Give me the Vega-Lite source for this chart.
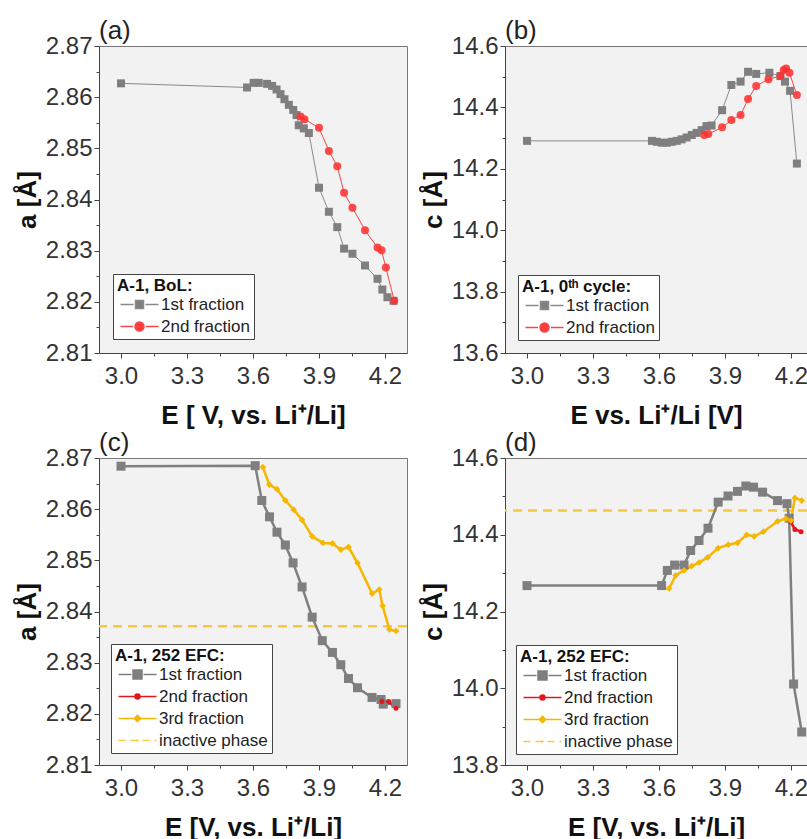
{
"$schema": "https://vega.github.io/schema/vega-lite/v6.json",
"padding": {"left": 13, "top": 17, "right": 0, "bottom": 0},
"autosize": {"type": "pad"},
"datasets": {
"a": [
{"E":3.0,"v":2.8627,"s":"1st fraction","i":0},{"E":3.573,"v":2.8619,"s":"1st fraction","i":1},{"E":3.603,"v":2.8628,"s":"1st fraction","i":2},{"E":3.626,"v":2.8628,"s":"1st fraction","i":3},{"E":3.664,"v":2.8626,"s":"1st fraction","i":4},{"E":3.687,"v":2.8622,"s":"1st fraction","i":5},{"E":3.707,"v":2.8615,"s":"1st fraction","i":6},{"E":3.725,"v":2.8606,"s":"1st fraction","i":7},{"E":3.743,"v":2.8596,"s":"1st fraction","i":8},{"E":3.763,"v":2.8585,"s":"1st fraction","i":9},{"E":3.783,"v":2.8575,"s":"1st fraction","i":10},{"E":3.798,"v":2.8565,"s":"1st fraction","i":11},{"E":3.808,"v":2.8545,"s":"1st fraction","i":12},{"E":3.831,"v":2.8539,"s":"1st fraction","i":13},{"E":3.854,"v":2.853,"s":"1st fraction","i":14},{"E":3.9,"v":2.8423,"s":"1st fraction","i":15},{"E":3.945,"v":2.8376,"s":"1st fraction","i":16},{"E":3.983,"v":2.8346,"s":"1st fraction","i":17},{"E":4.014,"v":2.8304,"s":"1st fraction","i":18},{"E":4.052,"v":2.8294,"s":"1st fraction","i":19},{"E":4.109,"v":2.8271,"s":"1st fraction","i":20},{"E":4.166,"v":2.8245,"s":"1st fraction","i":21},{"E":4.188,"v":2.8224,"s":"1st fraction","i":22},{"E":4.211,"v":2.8209,"s":"1st fraction","i":23},{"E":4.239,"v":2.8202,"s":"1st fraction","i":24},
{"E":3.816,"v":2.8562,"s":"2nd fraction","i":0},{"E":3.834,"v":2.8557,"s":"2nd fraction","i":1},{"E":3.9,"v":2.854,"s":"2nd fraction","i":2},{"E":3.945,"v":2.8495,"s":"2nd fraction","i":3},{"E":3.983,"v":2.8465,"s":"2nd fraction","i":4},{"E":4.014,"v":2.8413,"s":"2nd fraction","i":5},{"E":4.052,"v":2.8384,"s":"2nd fraction","i":6},{"E":4.109,"v":2.834,"s":"2nd fraction","i":7},{"E":4.166,"v":2.8306,"s":"2nd fraction","i":8},{"E":4.184,"v":2.8301,"s":"2nd fraction","i":9},{"E":4.204,"v":2.8267,"s":"2nd fraction","i":10},{"E":4.242,"v":2.8202,"s":"2nd fraction","i":11}
],
"b": [
{"E":3.0,"v":14.291,"s":"1st fraction","i":0},{"E":3.568,"v":14.291,"s":"1st fraction","i":1},{"E":3.59,"v":14.288,"s":"1st fraction","i":2},{"E":3.613,"v":14.285,"s":"1st fraction","i":3},{"E":3.636,"v":14.285,"s":"1st fraction","i":4},{"E":3.658,"v":14.288,"s":"1st fraction","i":5},{"E":3.681,"v":14.291,"s":"1st fraction","i":6},{"E":3.703,"v":14.296,"s":"1st fraction","i":7},{"E":3.726,"v":14.302,"s":"1st fraction","i":8},{"E":3.749,"v":14.31,"s":"1st fraction","i":9},{"E":3.771,"v":14.317,"s":"1st fraction","i":10},{"E":3.794,"v":14.326,"s":"1st fraction","i":11},{"E":3.816,"v":14.339,"s":"1st fraction","i":12},{"E":3.839,"v":14.341,"s":"1st fraction","i":13},{"E":3.887,"v":14.391,"s":"1st fraction","i":14},{"E":3.929,"v":14.473,"s":"1st fraction","i":15},{"E":3.971,"v":14.484,"s":"1st fraction","i":16},{"E":4.005,"v":14.516,"s":"1st fraction","i":17},{"E":4.042,"v":14.509,"s":"1st fraction","i":18},{"E":4.102,"v":14.513,"s":"1st fraction","i":19},{"E":4.152,"v":14.502,"s":"1st fraction","i":20},{"E":4.173,"v":14.484,"s":"1st fraction","i":21},{"E":4.196,"v":14.454,"s":"1st fraction","i":22},{"E":4.227,"v":14.217,"s":"1st fraction","i":23},
{"E":3.806,"v":14.31,"s":"2nd fraction","i":0},{"E":3.824,"v":14.313,"s":"2nd fraction","i":1},{"E":3.887,"v":14.335,"s":"2nd fraction","i":2},{"E":3.929,"v":14.359,"s":"2nd fraction","i":3},{"E":3.971,"v":14.375,"s":"2nd fraction","i":4},{"E":4.005,"v":14.427,"s":"2nd fraction","i":5},{"E":4.042,"v":14.47,"s":"2nd fraction","i":6},{"E":4.098,"v":14.492,"s":"2nd fraction","i":7},{"E":4.152,"v":14.502,"s":"2nd fraction","i":8},{"E":4.167,"v":14.522,"s":"2nd fraction","i":9},{"E":4.178,"v":14.527,"s":"2nd fraction","i":10},{"E":4.193,"v":14.513,"s":"2nd fraction","i":11},{"E":4.227,"v":14.44,"s":"2nd fraction","i":12}
],
"c": [
{"E":3.0,"v":2.8684,"s":"1st fraction","i":0},{"E":3.61,"v":2.8685,"s":"1st fraction","i":1},{"E":3.64,"v":2.8617,"s":"1st fraction","i":2},{"E":3.675,"v":2.8585,"s":"1st fraction","i":3},{"E":3.709,"v":2.8555,"s":"1st fraction","i":4},{"E":3.747,"v":2.853,"s":"1st fraction","i":5},{"E":3.782,"v":2.8495,"s":"1st fraction","i":6},{"E":3.823,"v":2.8448,"s":"1st fraction","i":7},{"E":3.869,"v":2.8389,"s":"1st fraction","i":8},{"E":3.915,"v":2.8343,"s":"1st fraction","i":9},{"E":3.961,"v":2.832,"s":"1st fraction","i":10},{"E":3.999,"v":2.8296,"s":"1st fraction","i":11},{"E":4.034,"v":2.8269,"s":"1st fraction","i":12},{"E":4.075,"v":2.8251,"s":"1st fraction","i":13},{"E":4.141,"v":2.8232,"s":"1st fraction","i":14},{"E":4.182,"v":2.8228,"s":"1st fraction","i":15},{"E":4.192,"v":2.8219,"s":"1st fraction","i":16},{"E":4.25,"v":2.822,"s":"1st fraction","i":17},
{"E":4.186,"v":2.8224,"s":"2nd fraction","i":0},{"E":4.217,"v":2.8224,"s":"2nd fraction","i":1},{"E":4.25,"v":2.8211,"s":"2nd fraction","i":2},
{"E":3.645,"v":2.8682,"s":"3rd fraction","i":0},{"E":3.674,"v":2.8648,"s":"3rd fraction","i":1},{"E":3.709,"v":2.8639,"s":"3rd fraction","i":2},{"E":3.747,"v":2.8617,"s":"3rd fraction","i":3},{"E":3.785,"v":2.8599,"s":"3rd fraction","i":4},{"E":3.823,"v":2.8579,"s":"3rd fraction","i":5},{"E":3.869,"v":2.8547,"s":"3rd fraction","i":6},{"E":3.918,"v":2.8534,"s":"3rd fraction","i":7},{"E":3.961,"v":2.8533,"s":"3rd fraction","i":8},{"E":3.999,"v":2.8521,"s":"3rd fraction","i":9},{"E":4.034,"v":2.8526,"s":"3rd fraction","i":10},{"E":4.075,"v":2.8495,"s":"3rd fraction","i":11},{"E":4.141,"v":2.8435,"s":"3rd fraction","i":12},{"E":4.174,"v":2.8443,"s":"3rd fraction","i":13},{"E":4.189,"v":2.8411,"s":"3rd fraction","i":14},{"E":4.22,"v":2.8365,"s":"3rd fraction","i":15},{"E":4.25,"v":2.8362,"s":"3rd fraction","i":16}
],
"d": [
{"E":3.0,"v":14.2675,"s":"1st fraction","i":0},{"E":3.612,"v":14.2675,"s":"1st fraction","i":1},{"E":3.638,"v":14.307,"s":"1st fraction","i":2},{"E":3.671,"v":14.321,"s":"1st fraction","i":3},{"E":3.714,"v":14.321,"s":"1st fraction","i":4},{"E":3.744,"v":14.359,"s":"1st fraction","i":5},{"E":3.782,"v":14.385,"s":"1st fraction","i":6},{"E":3.823,"v":14.417,"s":"1st fraction","i":7},{"E":3.869,"v":14.485,"s":"1st fraction","i":8},{"E":3.914,"v":14.501,"s":"1st fraction","i":9},{"E":3.957,"v":14.513,"s":"1st fraction","i":10},{"E":3.995,"v":14.527,"s":"1st fraction","i":11},{"E":4.03,"v":14.524,"s":"1st fraction","i":12},{"E":4.071,"v":14.511,"s":"1st fraction","i":13},{"E":4.139,"v":14.489,"s":"1st fraction","i":14},{"E":4.182,"v":14.481,"s":"1st fraction","i":15},{"E":4.192,"v":14.443,"s":"1st fraction","i":16},{"E":4.212,"v":14.011,"s":"1st fraction","i":17},{"E":4.249,"v":13.886,"s":"1st fraction","i":18},
{"E":4.2,"v":14.433,"s":"2nd fraction","i":0},{"E":4.218,"v":14.414,"s":"2nd fraction","i":1},{"E":4.246,"v":14.408,"s":"2nd fraction","i":2},
{"E":3.646,"v":14.26,"s":"3rd fraction","i":0},{"E":3.676,"v":14.294,"s":"3rd fraction","i":1},{"E":3.714,"v":14.307,"s":"3rd fraction","i":2},{"E":3.748,"v":14.318,"s":"3rd fraction","i":3},{"E":3.783,"v":14.328,"s":"3rd fraction","i":4},{"E":3.821,"v":14.341,"s":"3rd fraction","i":5},{"E":3.869,"v":14.365,"s":"3rd fraction","i":6},{"E":3.915,"v":14.374,"s":"3rd fraction","i":7},{"E":3.957,"v":14.379,"s":"3rd fraction","i":8},{"E":3.999,"v":14.4,"s":"3rd fraction","i":9},{"E":4.033,"v":14.396,"s":"3rd fraction","i":10},{"E":4.075,"v":14.408,"s":"3rd fraction","i":11},{"E":4.139,"v":14.435,"s":"3rd fraction","i":12},{"E":4.177,"v":14.442,"s":"3rd fraction","i":13},{"E":4.2,"v":14.437,"s":"3rd fraction","i":14},{"E":4.218,"v":14.496,"s":"3rd fraction","i":15},{"E":4.249,"v":14.489,"s":"3rd fraction","i":16}
],
"ic": [{"v":2.8371,"s":"inactive phase"}],
"id": [{"v":14.4633,"s":"inactive phase"}]
},
"columns": 2,
"spacing": {"row": 105, "column": 98},
"bounds": "flush",
"resolve": {"scale": {"color": "independent", "fill": "independent", "stroke": "independent", "shape": "independent"}, "legend": {"color": "independent", "fill": "independent", "stroke": "independent", "shape": "independent"}},
"concat": [
{
"width": 308, "height": 307,
"title": "(a)",
"data": {"name": "a"},
"resolve": {"axis": {"x": "independent", "y": "independent"}},
"layer": [
{"transform": [{"filter": "datum.s === '1st fraction'"}],
"mark": {"type": "line", "strokeWidth": 1, "color": "#8a8a8a"},
"encoding": {
"x": {"field": "E", "type": "quantitative", "scale": {"domain": [2.9, 4.3], "nice": false, "zero": false}, "axis": {"orient": "bottom", "values": [3.15, 3.45, 3.75, 4.05], "labels": false, "domain": false, "grid": false, "tickSize": 3, "title": null}},
"y": {"field": "v", "type": "quantitative", "scale": {"domain": [2.81, 2.87], "nice": false, "zero": false}, "axis": {"orient": "left", "values": [2.815, 2.825, 2.835, 2.845, 2.855, 2.865], "labels": false, "domain": false, "grid": false, "tickSize": 3, "title": null}},
"order": {"field": "i", "type": "quantitative"}
}},
{"transform": [{"filter": "datum.s === '2nd fraction'"}],
"mark": {"type": "line", "strokeWidth": 1, "color": "#f04848"},
"encoding": {
"x": {"field": "E", "type": "quantitative", "axis": null},
"y": {"field": "v", "type": "quantitative", "axis": null},
"order": {"field": "i", "type": "quantitative"}
}},
{"transform": [{"filter": "datum.s === '1st fraction'"}],
"mark": {"type": "point", "filled": true, "opacity": 1, "size": 64, "shape": "square", "color": "#7f7f7f"},
"encoding": {
"x": {"field": "E", "type": "quantitative", "axis": {"orient": "bottom", "values": [3.0, 3.3, 3.6, 3.9, 4.2], "format": ".1f", "title": "E [ V, vs. Li⁺/Li]"}},
"y": {"field": "v", "type": "quantitative", "axis": {"orient": "left", "values": [2.81, 2.82, 2.83, 2.84, 2.85, 2.86, 2.87], "format": ".2f", "title": "a [Å]"}}
}},
{"transform": [{"filter": "datum.s === '2nd fraction'"}],
"mark": {"type": "point", "filled": true, "opacity": 1, "size": 64, "shape": "circle", "color": "rgba(255,50,50,0.88)"},
"encoding": {
"x": {"field": "E", "type": "quantitative", "axis": null},
"y": {"field": "v", "type": "quantitative", "axis": null}
}},
{"mark": {"type": "point", "filled": true, "opacity": 0, "size": 100, "strokeWidth": 1},
"encoding": {
"x": {"field": "E", "type": "quantitative", "axis": null},
"y": {"field": "v", "type": "quantitative", "axis": null},
"fill": {"field": "s", "type": "nominal", "scale": {"domain": ["1st fraction", "2nd fraction"], "range": ["#7f7f7f", "#ff3c3c"]}, "legend": {"title": "A-1, BoL:", "offset": 14}},
"stroke": {"field": "s", "type": "nominal", "scale": {"domain": ["1st fraction", "2nd fraction"], "range": ["#8a8a8a", "#f04848"]}, "legend": {"title": "A-1, BoL:", "offset": 14}},
"shape": {"field": "s", "type": "nominal", "scale": {"domain": ["1st fraction", "2nd fraction"], "range": ["M-3.8,0H-1.2M1.2,0H3.8M-0.8,-0.8H0.8V0.8H-0.8Z", "M-3.8,0H-1.3M1.3,0H3.8M-0.9,0A0.9,0.9,0,1,1,0.9,0A0.9,0.9,0,1,1,-0.9,0Z"]}, "legend": {"title": "A-1, BoL:", "offset": 14}}
}}
]
},
{
"width": 302, "height": 307,
"title": "(b)",
"data": {"name": "b"},
"resolve": {"axis": {"x": "independent", "y": "independent"}},
"layer": [
{"transform": [{"filter": "datum.s === '1st fraction'"}],
"mark": {"type": "line", "strokeWidth": 1, "color": "#8a8a8a"},
"encoding": {
"x": {"field": "E", "type": "quantitative", "scale": {"domain": [2.9, 4.273], "nice": false, "zero": false}, "axis": {"orient": "bottom", "values": [3.15, 3.45, 3.75, 4.05], "labels": false, "domain": false, "grid": false, "tickSize": 3, "title": null}},
"y": {"field": "v", "type": "quantitative", "scale": {"domain": [13.6, 14.6], "nice": false, "zero": false}, "axis": {"orient": "left", "values": [13.7, 13.9, 14.1, 14.3, 14.5], "labels": false, "domain": false, "grid": false, "tickSize": 3, "title": null}},
"order": {"field": "i", "type": "quantitative"}
}},
{"transform": [{"filter": "datum.s === '2nd fraction'"}],
"mark": {"type": "line", "strokeWidth": 1, "color": "#f04848"},
"encoding": {
"x": {"field": "E", "type": "quantitative", "axis": null},
"y": {"field": "v", "type": "quantitative", "axis": null},
"order": {"field": "i", "type": "quantitative"}
}},
{"transform": [{"filter": "datum.s === '1st fraction'"}],
"mark": {"type": "point", "filled": true, "opacity": 1, "size": 64, "shape": "square", "color": "#7f7f7f"},
"encoding": {
"x": {"field": "E", "type": "quantitative", "axis": {"orient": "bottom", "values": [3.0, 3.3, 3.6, 3.9, 4.2], "format": ".1f", "title": "E vs. Li⁺/Li [V]"}},
"y": {"field": "v", "type": "quantitative", "axis": {"orient": "left", "values": [13.6, 13.8, 14.0, 14.2, 14.4, 14.6], "format": ".1f", "title": "c [Å]"}}
}},
{"transform": [{"filter": "datum.s === '2nd fraction'"}],
"mark": {"type": "point", "filled": true, "opacity": 1, "size": 64, "shape": "circle", "color": "rgba(255,50,50,0.88)"},
"encoding": {
"x": {"field": "E", "type": "quantitative", "axis": null},
"y": {"field": "v", "type": "quantitative", "axis": null}
}},
{"mark": {"type": "point", "filled": true, "opacity": 0, "size": 100, "strokeWidth": 1},
"encoding": {
"x": {"field": "E", "type": "quantitative", "axis": null},
"y": {"field": "v", "type": "quantitative", "axis": null},
"fill": {"field": "s", "type": "nominal", "scale": {"domain": ["1st fraction", "2nd fraction"], "range": ["#7f7f7f", "#ff3c3c"]}, "legend": {"title": "A-1, 0ᵗʰ cycle:", "offset": 13}},
"stroke": {"field": "s", "type": "nominal", "scale": {"domain": ["1st fraction", "2nd fraction"], "range": ["#8a8a8a", "#f04848"]}, "legend": {"title": "A-1, 0ᵗʰ cycle:", "offset": 13}},
"shape": {"field": "s", "type": "nominal", "scale": {"domain": ["1st fraction", "2nd fraction"], "range": ["M-3.8,0H-1.2M1.2,0H3.8M-0.8,-0.8H0.8V0.8H-0.8Z", "M-3.8,0H-1.3M1.3,0H3.8M-0.9,0A0.9,0.9,0,1,1,0.9,0A0.9,0.9,0,1,1,-0.9,0Z"]}, "legend": {"title": "A-1, 0ᵗʰ cycle:", "offset": 13}}
}}
]
},
{
"width": 308, "height": 307,
"title": "(c)",
"data": {"name": "c"},
"resolve": {"axis": {"x": "independent", "y": "independent"}},
"layer": [
{"data": {"name": "ic"},
"mark": {"type": "rule", "strokeWidth": 2.5, "strokeDash": [9, 6], "color": "#f7c740"},
"encoding": {
"y": {"field": "v", "type": "quantitative", "scale": {"domain": [2.81, 2.87], "nice": false, "zero": false}, "axis": null}
}},
{"mark": {"type": "line", "strokeWidth": 2.5},
"encoding": {
"x": {"field": "E", "type": "quantitative", "scale": {"domain": [2.9, 4.3], "nice": false, "zero": false}, "axis": {"orient": "bottom", "values": [3.15, 3.45, 3.75, 4.05], "labels": false, "domain": false, "grid": false, "tickSize": 3, "title": null}},
"y": {"field": "v", "type": "quantitative", "axis": {"orient": "left", "values": [2.815, 2.825, 2.835, 2.845, 2.855, 2.865], "labels": false, "domain": false, "grid": false, "tickSize": 3, "title": null}},
"color": {"field": "s", "type": "nominal", "scale": {"domain": ["1st fraction", "2nd fraction", "3rd fraction"], "range": ["#7f7f7f", "#e8141b", "#f5b700"]}, "legend": null},
"order": {"field": "i", "type": "quantitative"}
}},
{"transform": [{"filter": "datum.s === '1st fraction'"}],
"mark": {"type": "point", "filled": true, "opacity": 1, "size": 81, "shape": "square", "color": "#7f7f7f"},
"encoding": {
"x": {"field": "E", "type": "quantitative", "axis": {"orient": "bottom", "values": [3.0, 3.3, 3.6, 3.9, 4.2], "format": ".1f", "title": "E [V, vs. Li⁺/Li]"}},
"y": {"field": "v", "type": "quantitative", "axis": {"orient": "left", "values": [2.81, 2.82, 2.83, 2.84, 2.85, 2.86, 2.87], "format": ".2f", "title": "a [Å]"}}
}},
{"transform": [{"filter": "datum.s === '2nd fraction'"}],
"mark": {"type": "point", "filled": true, "opacity": 1, "size": 25, "shape": "circle", "color": "#e8141b"},
"encoding": {
"x": {"field": "E", "type": "quantitative", "axis": null},
"y": {"field": "v", "type": "quantitative", "axis": null}
}},
{"transform": [{"filter": "datum.s === '3rd fraction'"}],
"mark": {"type": "point", "filled": true, "opacity": 1, "size": 45, "shape": "diamond", "color": "#f5b700"},
"encoding": {
"x": {"field": "E", "type": "quantitative", "axis": null},
"y": {"field": "v", "type": "quantitative", "axis": null}
}},
{"mark": {"type": "point", "filled": true, "opacity": 0, "size": 100, "strokeWidth": 2.2},
"encoding": {
"x": {"field": "E", "type": "quantitative", "axis": null},
"y": {"field": "v", "type": "quantitative", "axis": null},
"fill": {"field": "s", "type": "nominal", "scale": {"domain": ["1st fraction", "2nd fraction", "3rd fraction", "inactive phase"], "range": ["#7f7f7f", "#e8141b", "#f5b700", "#f7c740"]}, "legend": {"title": "A-1, 252 EFC:", "offset": 12}},
"stroke": {"field": "s", "type": "nominal", "scale": {"domain": ["1st fraction", "2nd fraction", "3rd fraction", "inactive phase"], "range": ["#7f7f7f", "#e8141b", "#f5b700", "#f7c740"]}, "legend": {"title": "A-1, 252 EFC:", "offset": 12}},
"shape": {"field": "s", "type": "nominal", "scale": {"domain": ["1st fraction", "2nd fraction", "3rd fraction", "inactive phase"], "range": ["M-3.8,0H-1.2M1.2,0H3.8M-0.9,-0.9H0.9V0.9H-0.9Z", "M-3.8,0H3.8M-0.5,0A0.5,0.5,0,1,1,0.5,0A0.5,0.5,0,1,1,-0.5,0Z", "M-3.8,0H3.8M-0.65,0L0,-0.65L0.65,0L0,0.65Z", "M-3.8,0H-2.4M-1.4,0H0M1,0H2.4M3.4,0H3.8M-0.05,-0.05H0.05V0.05H-0.05Z"]}, "legend": {"title": "A-1, 252 EFC:", "offset": 12}}
}}
]
},
{
"width": 302, "height": 307,
"title": "(d)",
"data": {"name": "d"},
"resolve": {"axis": {"x": "independent", "y": "independent"}},
"layer": [
{"data": {"name": "id"},
"mark": {"type": "rule", "strokeWidth": 2.5, "strokeDash": [9, 6], "color": "#f7c740"},
"encoding": {
"y": {"field": "v", "type": "quantitative", "scale": {"domain": [13.8, 14.6], "nice": false, "zero": false}, "axis": null}
}},
{"mark": {"type": "line", "strokeWidth": 2.5},
"encoding": {
"x": {"field": "E", "type": "quantitative", "scale": {"domain": [2.9, 4.273], "nice": false, "zero": false}, "axis": {"orient": "bottom", "values": [3.15, 3.45, 3.75, 4.05], "labels": false, "domain": false, "grid": false, "tickSize": 3, "title": null}},
"y": {"field": "v", "type": "quantitative", "axis": {"orient": "left", "values": [13.9, 14.1, 14.3, 14.5], "labels": false, "domain": false, "grid": false, "tickSize": 3, "title": null}},
"color": {"field": "s", "type": "nominal", "scale": {"domain": ["1st fraction", "2nd fraction", "3rd fraction"], "range": ["#7f7f7f", "#e8141b", "#f5b700"]}, "legend": null},
"order": {"field": "i", "type": "quantitative"}
}},
{"transform": [{"filter": "datum.s === '1st fraction'"}],
"mark": {"type": "point", "filled": true, "opacity": 1, "size": 81, "shape": "square", "color": "#7f7f7f"},
"encoding": {
"x": {"field": "E", "type": "quantitative", "axis": {"orient": "bottom", "values": [3.0, 3.3, 3.6, 3.9, 4.2], "format": ".1f", "title": "E [V, vs. Li⁺/Li]"}},
"y": {"field": "v", "type": "quantitative", "axis": {"orient": "left", "values": [13.8, 14.0, 14.2, 14.4, 14.6], "format": ".1f", "title": "c [Å]"}}
}},
{"transform": [{"filter": "datum.s === '2nd fraction'"}],
"mark": {"type": "point", "filled": true, "opacity": 1, "size": 25, "shape": "circle", "color": "#e8141b"},
"encoding": {
"x": {"field": "E", "type": "quantitative", "axis": null},
"y": {"field": "v", "type": "quantitative", "axis": null}
}},
{"transform": [{"filter": "datum.s === '3rd fraction'"}],
"mark": {"type": "point", "filled": true, "opacity": 1, "size": 45, "shape": "diamond", "color": "#f5b700"},
"encoding": {
"x": {"field": "E", "type": "quantitative", "axis": null},
"y": {"field": "v", "type": "quantitative", "axis": null}
}},
{"mark": {"type": "point", "filled": true, "opacity": 0, "size": 100, "strokeWidth": 2.2},
"encoding": {
"x": {"field": "E", "type": "quantitative", "axis": null},
"y": {"field": "v", "type": "quantitative", "axis": null},
"fill": {"field": "s", "type": "nominal", "scale": {"domain": ["1st fraction", "2nd fraction", "3rd fraction", "inactive phase"], "range": ["#7f7f7f", "#e8141b", "#f5b700", "#f7c740"]}, "legend": {"title": "A-1, 252 EFC:", "offset": 11}},
"stroke": {"field": "s", "type": "nominal", "scale": {"domain": ["1st fraction", "2nd fraction", "3rd fraction", "inactive phase"], "range": ["#7f7f7f", "#e8141b", "#f5b700", "#f7c740"]}, "legend": {"title": "A-1, 252 EFC:", "offset": 11}},
"shape": {"field": "s", "type": "nominal", "scale": {"domain": ["1st fraction", "2nd fraction", "3rd fraction", "inactive phase"], "range": ["M-3.8,0H-1.2M1.2,0H3.8M-0.9,-0.9H0.9V0.9H-0.9Z", "M-3.8,0H3.8M-0.5,0A0.5,0.5,0,1,1,0.5,0A0.5,0.5,0,1,1,-0.5,0Z", "M-3.8,0H3.8M-0.65,0L0,-0.65L0.65,0L0,0.65Z", "M-3.8,0H-2.4M-1.4,0H0M1,0H2.4M3.4,0H3.8M-0.05,-0.05H0.05V0.05H-0.05Z"]}, "legend": {"title": "A-1, 252 EFC:", "offset": 11}}
}}
]
}
],
"config": {
"font": "Liberation Sans",
"view": {"fill": "#f2f2f2", "stroke": "#777", "strokeWidth": 1},
"title": {"fontSize": 26, "fontWeight": "normal", "anchor": "start", "frame": "group", "offset": -10, "color": "#222"},
"axis": {"labelFontSize": 24, "labelColor": "#333", "titleFontSize": 26, "titleFontWeight": "bold", "titleColor": "#111", "domainColor": "#444", "tickColor": "#444", "gridColor": "#ffffff", "gridWidth": 1, "tickSize": 5, "labelPadding": 2, "titlePadding": 5},
"axisX": {"labelPadding": 6, "titlePadding": 14},
"legend": {"orient": "bottom-left", "fillColor": "white", "strokeColor": "#444", "padding": 4, "cornerRadius": 0, "titleFontSize": 17, "titleFontWeight": "bold", "titleColor": "#111", "titlePadding": 1, "labelFontSize": 17, "labelColor": "#222", "symbolSize": 100, "symbolOpacity": 1, "symbolOffset": 14, "labelOffset": 13, "rowPadding": 4}
}
}
